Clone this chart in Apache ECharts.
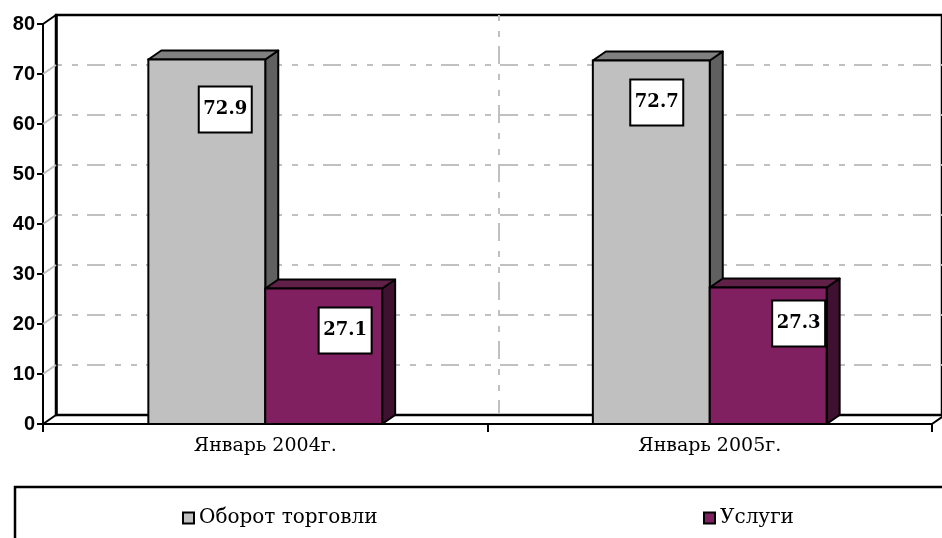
<!DOCTYPE html>
<html><head><meta charset="utf-8">
<script src="https://cdn.jsdelivr.net/npm/echarts@6/dist/echarts.min.js"></script>
<style>html,body{margin:0;padding:0;background:#fff}#c{width:942px;height:538px}</style>
</head><body><div id="c"></div>
<script>
const categories = ['Январь 2004г.', 'Январь 2005г.'];
const seriesNames = ['Оборот торговли', 'Услуги'];
const tradeValues = [72.9, 72.7];
const serviceValues = [27.1, 27.3];
const yTicks = [0, 10, 20, 30, 40, 50, 60, 70, 80];

// style / layout config
const DX = 13, DY = -9;
const BAR_RATIO = 0.263;
const palettes = [
  { front: '#c0c0c0', top: '#808080', side: '#606060' },
  { front: '#802060', top: '#602048', side: '#401030' }
];
// label centre offsets relative to (front right edge, front top)
const labelOffsets = [
  [[-40, 50], [-53, 42]],
  [[-37, 42], [-28, 36]]
];
const DASH = [6, 10, 6, 9, 18, 10];
const GRIDC = '#c0c0c0';

function barRenderer(si) {
  return function (params, api) {
    const xi = api.value(0), v = api.value(1);
    const topPt = api.coord([xi, v]);
    const basePt = api.coord([xi, 0]);
    const cw = api.size([1, 0])[0];
    const bw = cw * BAR_RATIO;
    const x0 = topPt[0] - bw + si * bw, x1 = x0 + bw;
    const y0 = topPt[1], y1 = basePt[1];
    const pal = palettes[si];
    const off = labelOffsets[si][params.dataIndex];
    const lcx = x1 + off[0], lcy = y0 + off[1];
    const bwid = 53, bh = 46;
    return {
      type: 'group',
      children: [
        { type: 'polygon', shape: { points: [[x1, y0], [x1 + DX, y0 + DY], [x1 + DX, y1 + DY], [x1, y1]] },
          style: { fill: pal.side, stroke: '#000', lineWidth: 2, lineJoin: 'round' } },
        { type: 'polygon', shape: { points: [[x0, y0], [x0 + DX, y0 + DY], [x1 + DX, y0 + DY], [x1, y0]] },
          style: { fill: pal.top, stroke: '#000', lineWidth: 2, lineJoin: 'round' } },
        { type: 'rect', shape: { x: x0, y: y0, width: bw, height: y1 - y0 },
          style: { fill: pal.front, stroke: '#000', lineWidth: 2 } },
        { type: 'rect', shape: { x: lcx - bwid / 2, y: lcy - bh / 2, width: bwid, height: bh },
          style: { fill: '#fff', stroke: '#000', lineWidth: 2 } },
        { type: 'text', x: lcx, y: lcy,
          style: { text: v.toFixed(1), fill: '#000', font: 'bold 18px "DejaVu Serif"', align: 'center', verticalAlign: 'middle' } }
      ]
    };
  };
}

function frameRenderer(params, api) {
  const cs = params.coordSys;
  const x = cs.x, y = cs.y, w = cs.width, h = cs.height;
  const children = [];
  yTicks.forEach(function (t) {
    if (t === 0 || t === yTicks[yTicks.length - 1]) return;
    const p = api.coord([0, t]);
    children.push({ type: 'line', shape: { x1: x, y1: p[1], x2: x + DX, y2: p[1] + DY },
      style: { stroke: GRIDC, lineWidth: 2 } });
  });
  const blk = { stroke: '#000', lineWidth: 2 };
  children.push({ type: 'line', shape: { x1: x, y1: y, x2: x + DX, y2: y + DY }, style: blk });
  children.push({ type: 'line', shape: { x1: x, y1: y + h, x2: x + DX, y2: y + h + DY }, style: blk });
  children.push({ type: 'line', shape: { x1: x + w, y1: y + h, x2: x + w + DX, y2: y + h + DY }, style: blk });
  return { type: 'group', children: children };
}

const chart = echarts.init(document.getElementById('c'));
chart.setOption({
  animation: false,
  backgroundColor: '#fff',
  grid: [
    { left: 43, right: 10, top: 24, bottom: 114 },
    { left: 56, right: -3, top: 15, bottom: 123, show: true, borderColor: '#000', borderWidth: 2.5, backgroundColor: '#fff' }
  ],
  xAxis: [
    { type: 'category', gridIndex: 0, data: categories,
      axisLine: { lineStyle: { color: '#000', width: 2 } },
      axisTick: { show: true, length: 8, lineStyle: { color: '#000', width: 2 } },
      axisLabel: { color: '#000', fontFamily: 'DejaVu Serif', fontSize: 19, margin: 13 },
      splitLine: { show: false } },
    { type: 'category', gridIndex: 1, data: categories,
      axisLine: { show: true, lineStyle: { color: '#000', width: 2 } },
      axisTick: { show: false }, axisLabel: { show: false },
      splitLine: { show: true, showMinLine: false, showMaxLine: false, lineStyle: { color: GRIDC, width: 2, type: DASH } } }
  ],
  yAxis: [
    { type: 'value', gridIndex: 0, min: 0, max: 80, interval: 10,
      axisLine: { show: true, lineStyle: { color: '#000', width: 2 } },
      axisTick: { show: true, length: 6, lineStyle: { color: '#000', width: 2 } },
      axisLabel: { color: '#000', fontFamily: 'Liberation Sans', fontWeight: 'bold', fontSize: 20, margin: 8 },
      splitLine: { show: false } },
    { type: 'value', gridIndex: 1, min: 0, max: 80, interval: 10,
      axisLine: { show: true, lineStyle: { color: '#000', width: 2.5 } },
      axisTick: { show: false }, axisLabel: { show: false },
      splitLine: { show: true, showMinLine: false, showMaxLine: false, lineStyle: { color: GRIDC, width: 2, type: DASH } } }
  ],
  legend: [
    { data: [seriesNames[0]], left: 177, top: 503, icon: 'rect', itemWidth: 11, itemHeight: 11,
      itemStyle: { borderColor: '#000', borderWidth: 2 },
      textStyle: { color: '#000', fontFamily: 'DejaVu Serif', fontSize: 20 } },
    { data: [seriesNames[1]], left: 698, top: 503, icon: 'rect', itemWidth: 11, itemHeight: 11,
      itemStyle: { borderColor: '#000', borderWidth: 2 },
      textStyle: { color: '#000', fontFamily: 'DejaVu Serif', fontSize: 20 } }
  ],
  graphic: [
    { type: 'rect', shape: { x: 15, y: 487, width: 1000, height: 100 },
      style: { fill: 'none', stroke: '#000', lineWidth: 2.5 } }
  ],
  series: [
    { type: 'custom', name: 'frame', xAxisIndex: 0, yAxisIndex: 0, data: [[0, 0]],
      renderItem: frameRenderer, silent: true, z: 1 },
    { type: 'custom', name: seriesNames[0], xAxisIndex: 0, yAxisIndex: 0,
      itemStyle: { color: palettes[0].front },
      data: tradeValues.map(function (v, i) { return [i, v]; }),
      renderItem: barRenderer(0), z: 3 },
    { type: 'custom', name: seriesNames[1], xAxisIndex: 0, yAxisIndex: 0,
      itemStyle: { color: palettes[1].front },
      data: serviceValues.map(function (v, i) { return [i, v]; }),
      renderItem: barRenderer(1), z: 4 }
  ]
});
</script></body></html>
